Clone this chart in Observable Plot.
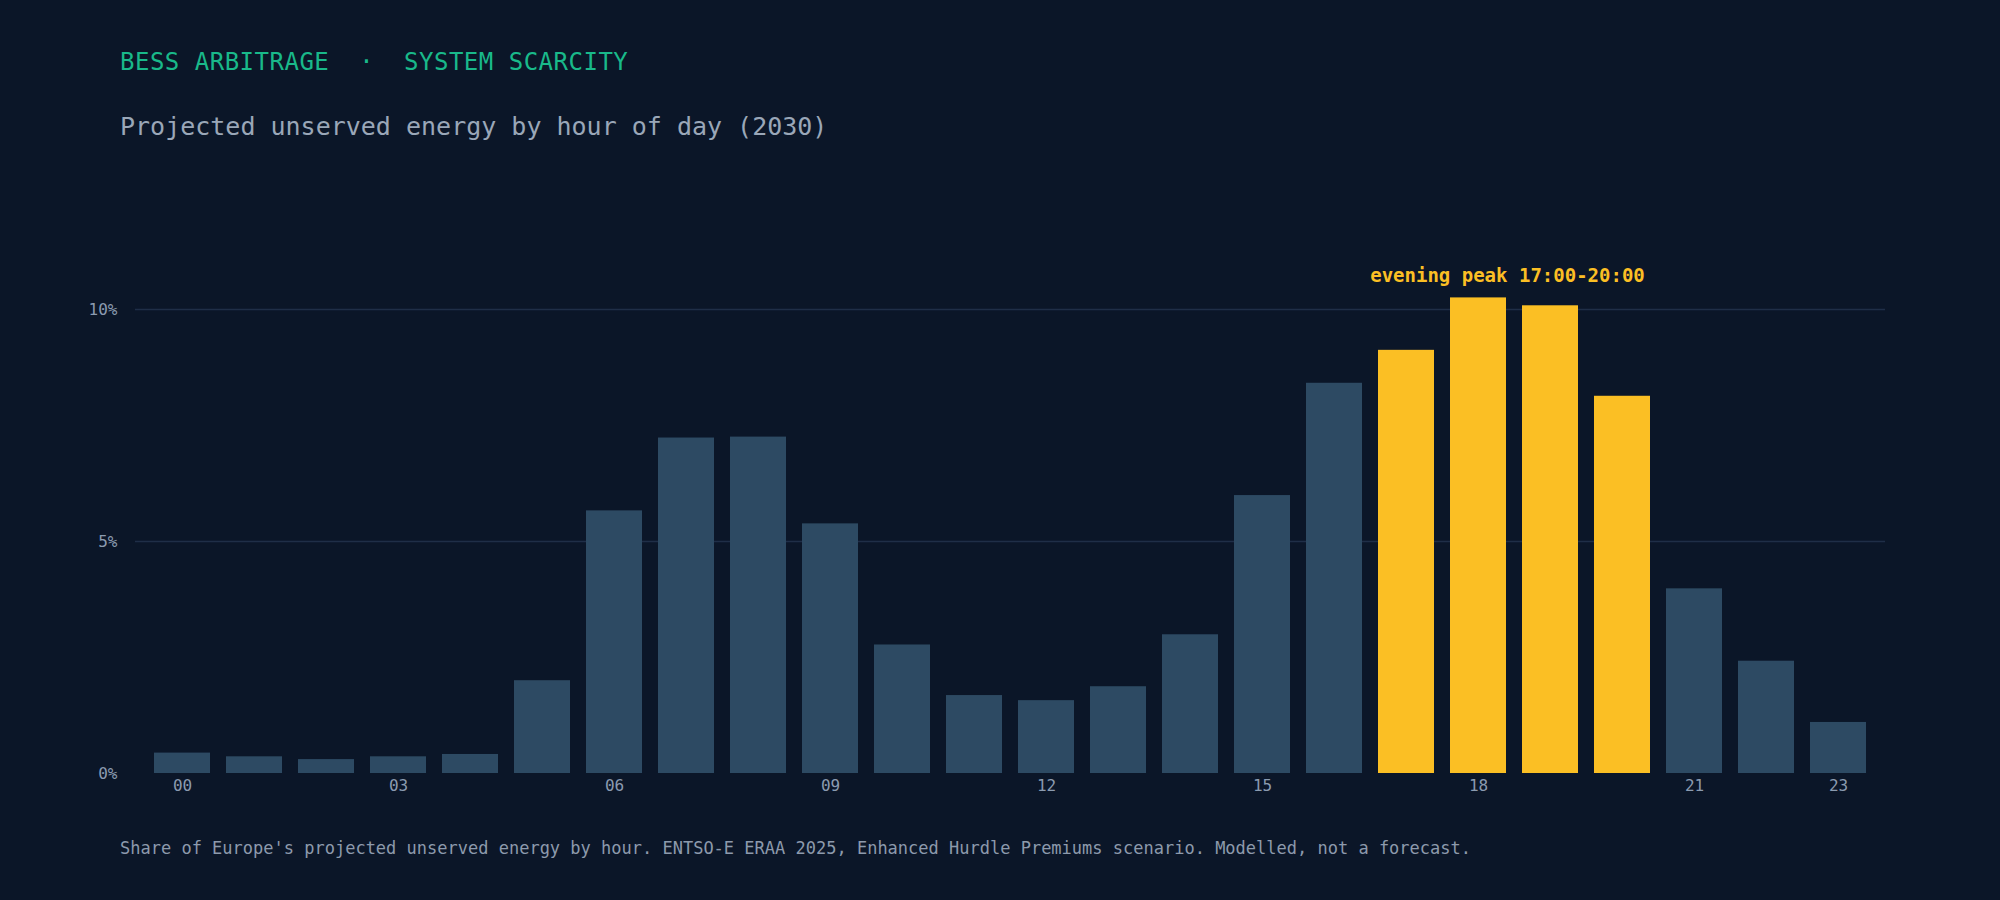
<!DOCTYPE html>
<html><head><meta charset="utf-8">
<script src="https://cdn.jsdelivr.net/npm/d3@7"></script>
<script src="https://cdn.jsdelivr.net/npm/@observablehq/plot@0.6"></script>
<style>
body{margin:0;background:#0b1628;width:2000px;height:900px;overflow:hidden;font-family:"DejaVu Sans Mono",monospace;}
#title{position:absolute;left:120px;top:48px;color:#19b98a;font-size:24px;letter-spacing:0.5px;}
#sub{position:absolute;left:120px;top:112px;color:#9aa7b8;font-size:25px;}
#cap{position:absolute;left:120px;top:838px;color:#8d9aac;font-size:17px;}
#chart{position:absolute;left:0;top:200px;}
</style></head><body>
<div id="title">BESS ARBITRAGE &nbsp;·&nbsp; SYSTEM SCARCITY</div>
<div id="sub">Projected unserved energy by hour of day (2030)</div>
<div id="chart"></div>
<div id="cap">Share of Europe's projected unserved energy by hour. ENTSO-E ERAA 2025, Enhanced Hurdle Premiums scenario. Modelled, not a forecast.</div>
<script>
const hours = ["00","01","02","03","04","05","06","07","08","09","10","11","12","13","14","15","16","17","18","19","20","21","22","23"];
const shares = [0.44,0.36,0.30,0.36,0.41,2.0,5.66,7.23,7.25,5.38,2.77,1.68,1.57,1.87,2.99,5.99,8.41,9.12,10.25,10.08,8.13,3.98,2.42,1.10];
const peakHours = ["17","18","19","20"];
const xTicks = ["00","03","06","09","12","15","18","21","23"];
const yTicks = [0,5,10];
const data = hours.map((h,i)=>({hour:h, share:shares[i], peak:peakHours.includes(h)}));
const chart = Plot.plot({
  width:2000, height:620, marginTop:109, marginBottom:47, marginLeft:135, marginRight:115,
  style:{background:"transparent", color:"#8b9bb0", fontFamily:"DejaVu Sans Mono, monospace", fontSize:"16px"},
  x:{domain:hours, padding:0.22, label:null, ticks:xTicks, tickSize:0, tickPadding:6},
  y:{domain:[0,10], label:null, ticks:yTicks, tickFormat:d=>d+"%", tickSize:0, tickPadding:18},
  marks:[
    Plot.ruleY([5,10],{stroke:"#1f2e47", strokeWidth:1.5}),
    Plot.barY(data,{x:"hour", y:"share", fill:d=>d.peak?"#fbbf24":"#2d4a63"}),
    Plot.text(["evening peak 17:00-20:00"],{x:()=>"18", y:()=>10, dx:29, dy:-34, text:d=>d, fill:"#fbbf24", fontSize:19, fontWeight:"bold"})
  ]
});
document.getElementById("chart").appendChild(chart);
</script>
</body></html>
